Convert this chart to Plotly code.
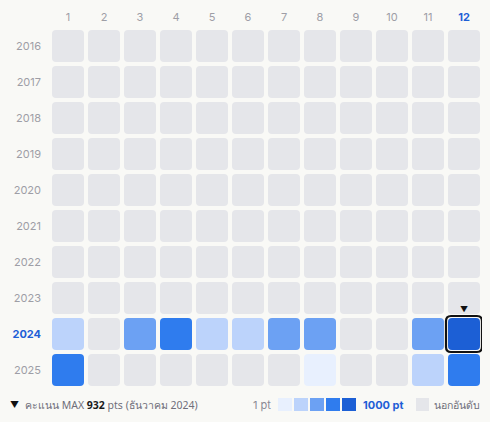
import plotly.graph_objects as go

# ---- data ----
years = [2016, 2017, 2018, 2019, 2020, 2021, 2022, 2023, 2024, 2025]
months = [1, 2, 3, 4, 5, 6, 7, 8, 9, 10, 11, 12]
month_labels = ["1", "2", "3", "4", "5", "6", "7", "8", "9", "10", "11", "12"]
# points per month (None = out of ranking)
pts_2024 = [250, None, 500, 720, 240, 230, 520, 480, None, None, 470, 932]
pts_2025 = [700, None, None, None, None, None, None, 60, None, None, 260, 690]
scores = {y: [None] * 12 for y in years}
scores[2024] = pts_2024
scores[2025] = pts_2025
selected_year, selected_month = 2024, 12
max_pts = 932
level_colors = ["#e8f0fe", "#bcd3fb", "#6ca1f3", "#2f7cee", "#1c5fd5"]
empty_color = "#e5e6ea"
bg = "#f9f9f6"

W, H = 490, 422
ML, MR, MT, MB = 50, 8, 28, 34
PW, PH = W - ML - MR, H - MT - MB


def px2x(px):
    return (px - ML) / PW


def py2y(py):
    return (H - MB - py) / PH


def color_for(v):
    if v is None:
        return empty_color
    idx = min(4, int(v / 1000 * 5))
    return level_colors[idx]


def rrect(cx, cy, hw, r):
    x0, x1, y0, y1 = cx - hw, cx + hw, cy - hw, cy + hw
    return (f"M {x0 + r},{y0} L {x1 - r},{y0} Q {x1},{y0} {x1},{y0 + r} "
            f"L {x1},{y1 - r} Q {x1},{y1} {x1 - r},{y1} L {x0 + r},{y1} "
            f"Q {x0},{y1} {x0},{y1 - r} L {x0},{y0 + r} Q {x0},{y0} {x0 + r},{y0} Z")


shapes = []
hx, hy, ht = [], [], []
for y in years:
    for i, m in enumerate(months):
        v = scores[y][i]
        shapes.append(dict(type="path", xref="x", yref="y", path=rrect(m, y, 16 / 36, 4 / 36),
                           fillcolor=color_for(v), line=dict(width=0), layer="below"))
        hx.append(m)
        hy.append(y)
        ht.append(f"{y}/{m}: {v} pts" if v is not None else f"{y}/{m}: นอกอันดับ")

# selected outline
shapes.append(dict(type="path", xref="x", yref="y",
                   path=rrect(selected_month, selected_year, 18 / 36, 5 / 36),
                   fillcolor="rgba(0,0,0,0)", line=dict(color="#111111", width=2.2)))

fig = go.Figure(go.Scatter(x=hx, y=hy, mode="markers", text=ht, hoverinfo="text",
                           marker=dict(size=30, opacity=0), showlegend=False))

font = "Inter, 'Noto Sans', sans-serif"
cap_font = "'Noto Sans', 'Open Sans', sans-serif"
tick_cols = []
for i, lab in enumerate(month_labels):
    if months[i] == selected_month:
        tick_cols.append(f"<span style='color:#1f5fd6'><b>{lab}</b></span>")
    else:
        tick_cols.append(lab)
year_ticks = [f"<span style='color:#1f5fd6'><b>{y}</b></span>" if y == selected_year else str(y) for y in years]

ann = []
# marker above selected
ann.append(dict(x=selected_month, y=selected_year, xref="x", yref="y", text="▼", showarrow=False,
                yshift=25, font=dict(size=8, color="#111111", family=font)))
# bottom-left caption
ann.append(dict(x=px2x(8), y=py2y(404), xref="paper", yref="paper", xanchor="left", yanchor="middle",
                showarrow=False, text="▼", font=dict(size=9, color="#111111", family=font)))
ann.append(dict(x=px2x(23), y=py2y(405), xref="paper", yref="paper", xanchor="left", yanchor="middle",
                showarrow=False,
                text=f"คะแนน MAX <span style='color:#1a1a1a'><b>{max_pts}</b></span> pts (ธันวาคม {selected_year})",
                font=dict(size=10.5, color="#6f6f7a", family=cap_font)))
ann.append(dict(x=px2x(273), y=py2y(405), xref="paper", yref="paper", xanchor="right", yanchor="middle",
                showarrow=False, text="1 pt", font=dict(size=11, color="#8a8a94", family=font)))
ann.append(dict(x=px2x(361), y=py2y(405), xref="paper", yref="paper", xanchor="left", yanchor="middle",
                showarrow=False, text="<b>1000 pt</b>", font=dict(size=11, color="#1f5fd6", family=font)))
ann.append(dict(x=px2x(432), y=py2y(405), xref="paper", yref="paper", xanchor="left", yanchor="middle",
                showarrow=False, text="นอกอันดับ", font=dict(size=10.5, color="#6f6f7a", family=cap_font)))

for k, c in enumerate(level_colors):
    x0 = 278 + 16 * k
    shapes.append(dict(type="rect", xref="paper", yref="paper", x0=px2x(x0), x1=px2x(x0 + 14),
                       y0=py2y(411), y1=py2y(398), fillcolor=c, line=dict(width=0)))
shapes.append(dict(type="rect", xref="paper", yref="paper", x0=px2x(416), x1=px2x(429),
                   y0=py2y(411), y1=py2y(398), fillcolor=empty_color, line=dict(width=0)))

fig.update_layout(
    width=W, height=H, margin=dict(l=ML, r=MR, t=MT, b=MB),
    paper_bgcolor=bg, plot_bgcolor=bg,
    shapes=shapes, annotations=ann,
    font=dict(family=font, size=11, color="#9e9ea6"),
    xaxis=dict(range=[0.5, 12.5], side="top", tickvals=months, ticktext=tick_cols,
               showgrid=False, zeroline=False, showline=False, ticks="", ticklabelstandoff=4,
               fixedrange=True),
    yaxis=dict(range=[2025.5, 2015.5], tickvals=years, ticktext=year_ticks,
               showgrid=False, zeroline=False, showline=False, ticks="", ticklabelstandoff=8,
               fixedrange=True),
)
fig.write_html("out.html", config={"displayModeBar": False},
               post_script="document.body.style.margin='0';document.body.style.background='#f9f9f6';")
